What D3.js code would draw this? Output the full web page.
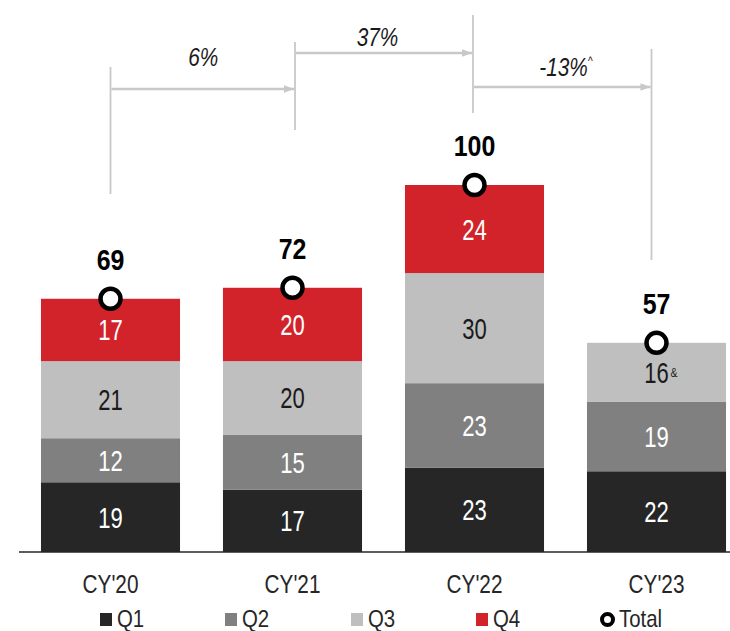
<!DOCTYPE html>
<html>
<head>
<meta charset="utf-8">
<script src="https://cdn.jsdelivr.net/npm/d3@7/dist/d3.min.js"></script>
<style>
  html, body { margin: 0; padding: 0; background: #fff; }
  svg { display: block; }
  text { font-family: "Liberation Sans", Arial, sans-serif; }
</style>
</head>
<body>
<svg id="chart" width="730" height="631"></svg>
<script>
// ---- data ----
const categories = ["CY'20", "CY'21", "CY'22", "CY'23"];
const seriesKeys = ["Q1", "Q2", "Q3", "Q4"];
const q1 = [19, 17, 23, 22];
const q2 = [12, 15, 23, 19];
const q3 = [21, 20, 30, 16];
const q4 = [17, 20, 24, 0];
const totals = [69, 72, 100, 57];
const segmentNotes = { "CY'23|Q3": "&" };
const growthLabels = ["6%", "37%", "-13%"];
const growthNotes = ["", "", "^"];

const colors = { Q1: "#262626", Q2: "#808080", Q3: "#bfbfbf", Q4: "#d2232a" };
const textColors = { Q1: "#ffffff", Q2: "#ffffff", Q3: "#1a1a1a", Q4: "#ffffff" };

const rows = categories.map((c, i) => ({ cat: c, Q1: q1[i], Q2: q2[i], Q3: q3[i], Q4: q4[i], total: totals[i] }));

const svg = d3.select("#chart");
const baseY = 552;

const x = d3.scaleBand().domain(categories).range([19.5, 747.5]).paddingInner(0.236).paddingOuter(0.118);
const y = d3.scaleLinear().domain([0, 100]).range([baseY, 185]);

// condensed text helper (no narrow font available)
function addText(g, tx, ty, str, size, sx, opts = {}) {
  const t = g.append("text")
    .attr("transform", `translate(${tx},${ty}) scale(${sx},1)`)
    .attr("font-size", size)
    .attr("text-anchor", opts.anchor || "middle")
    .attr("fill", opts.fill || "#000")
    .text(str);
  if (opts.weight) t.attr("font-weight", opts.weight);
  if (opts.italic) t.attr("font-style", "italic");
  return t;
}

const stacked = d3.stack().keys(seriesKeys)(rows);

// bars
const layers = svg.append("g").selectAll("g").data(stacked).join("g")
  .attr("fill", d => colors[d.key]);
layers.selectAll("rect").data(d => d.map(p => ({ key: d.key, p })))
  .join("rect")
  .attr("x", d => x(d.p.data.cat))
  .attr("width", x.bandwidth())
  .attr("y", d => y(d.p[1]))
  .attr("height", d => y(d.p[0]) - y(d.p[1]));

// segment labels
const segG = svg.append("g");
stacked.forEach(layer => {
  layer.forEach(p => {
    const v = p.data[layer.key];
    if (!v) return;
    const cx = x(p.data.cat) + x.bandwidth() / 2;
    const cy = (y(p[0]) + y(p[1])) / 2;
    addText(segG, cx, cy + 10.5, v, 29, 0.76, { fill: textColors[layer.key] });
    const note = segmentNotes[p.data.cat + "|" + layer.key];
    if (note) {
      addText(segG, cx + 14, cy + 5, note, 13, 0.8, { fill: textColors[layer.key], anchor: "start" });
    }
  });
});

// axis
const axis = svg.append("g").attr("transform", `translate(0,${baseY})`)
  .call(d3.axisBottom(x).tickSize(0).tickPadding(0));
axis.select(".domain").remove();
axis.append("line").attr("x1", 19).attr("x2", 730).attr("y1", 0).attr("y2", 0)
  .attr("stroke", "#262626").attr("stroke-width", 1.5);
axis.selectAll(".tick text")
  .attr("y", 0).attr("dy", 0)
  .attr("transform", "translate(0,41) scale(0.83,1)")
  .attr("font-size", 25)
  .attr("fill", "#262626")
  .style("font-family", "'Liberation Sans', Arial, sans-serif");

// totals
const totG = svg.append("g");
rows.forEach(r => {
  const cx = x(r.cat) + x.bandwidth() / 2;
  const cy = y(r.total);
  totG.append("circle").attr("cx", cx).attr("cy", cy).attr("r", 10)
    .attr("fill", "#fff").attr("stroke", "#000").attr("stroke-width", 4.5);
  addText(totG, cx, cy - 29, r.total, 29, 0.86, { weight: "bold" });
});

// growth annotations
const annG = svg.append("g");
const grey = "#c8c8c8";
const defs = svg.append("defs");
defs.append("marker").attr("id", "arr").attr("viewBox", "0 0 10 10")
  .attr("refX", 10).attr("refY", 5).attr("markerWidth", 4.2).attr("markerHeight", 3.2)
  .attr("markerUnits", "strokeWidth").attr("orient", "auto").attr("preserveAspectRatio", "none")
  .append("path").attr("d", "M0,0 L10,5 L0,10 Z").attr("fill", grey);

const vOffset = [0, 2.5, -1.5, -5];
const vTop = [67, 42, 15, 49];
const vBot = [194, 130, 113, 260];
const arrowY = [89, 53, 87];
const labelY = [66, 46, 76];
const labelDx = [0.5, -6.5, 4];
const vx = categories.map((c, i) => x(c) + x.bandwidth() / 2 + vOffset[i]);
vx.forEach((cx, i) => {
  annG.append("line").attr("x1", cx).attr("x2", cx).attr("y1", vTop[i]).attr("y2", vBot[i])
    .attr("stroke", grey).attr("stroke-width", 1.8);
});
growthLabels.forEach((lab, i) => {
  const xa = vx[i], xb = vx[i + 1];
  annG.append("line").attr("x1", xa + 1).attr("x2", xb - 1).attr("y1", arrowY[i]).attr("y2", arrowY[i])
    .attr("stroke", grey).attr("stroke-width", 2.4).attr("marker-end", "url(#arr)");
  const t = addText(annG, (xa + xb) / 2 + labelDx[i], labelY[i], lab, 26, 0.8, { italic: true, fill: "#1a1a1a" });
  if (growthNotes[i]) {
    t.attr("text-anchor", "start").attr("transform",
      `translate(${(xa + xb) / 2 + labelDx[i] - 27},${labelY[i]}) scale(0.8,1)`);
    t.append("tspan").attr("font-size", 13).attr("dy", -11).text(growthNotes[i]);
  }
});

// legend
const legend = svg.append("g");
const legendX = [100, 225, 351, 476];
seriesKeys.forEach((k, i) => {
  legend.append("rect").attr("x", legendX[i]).attr("y", 613).attr("width", 12).attr("height", 13)
    .attr("fill", colors[k]);
  addText(legend, legendX[i] + 17, 627, k, 24, 0.85, { anchor: "start", fill: "#262626" });
});
legend.append("circle").attr("cx", 607.5).attr("cy", 619.5).attr("r", 5.5)
  .attr("fill", "#fff").attr("stroke", "#000").attr("stroke-width", 4);
addText(legend, 619, 627, "Total", 24, 0.85, { anchor: "start", fill: "#262626" });
</script>
</body>
</html>
